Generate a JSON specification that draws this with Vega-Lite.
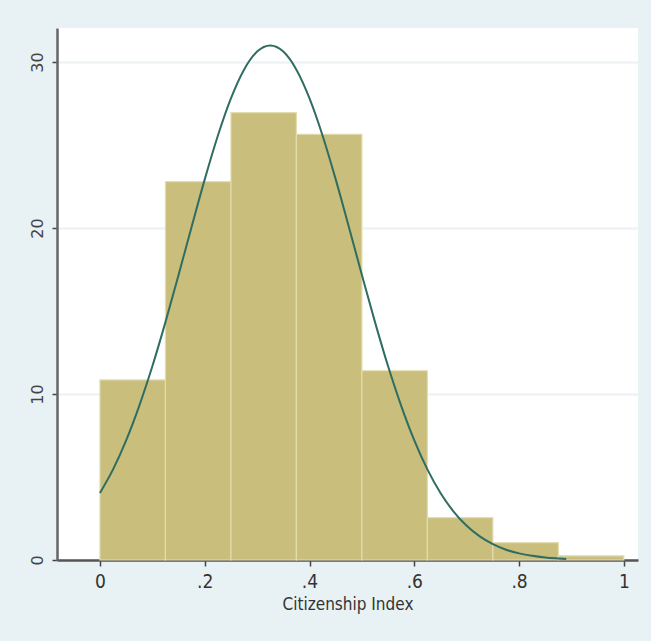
{
  "$schema": "https://vega.github.io/schema/vega-lite/v6.json",
  "width": 581,
  "height": 532,
  "autosize": {"type": "none"},
  "padding": {"left": 57, "top": 28, "right": 13, "bottom": 81},
  "background": "#e8f1f4",
  "config": {
    "view": {"fill": "#ffffff", "stroke": null},
    "font": "DejaVu Sans"
  },
  "datasets": {
    "bins": [
      {"start": 0.0, "end": 0.125, "pct": 10.85},
      {"start": 0.125, "end": 0.25, "pct": 22.8},
      {"start": 0.25, "end": 0.375, "pct": 26.95},
      {"start": 0.375, "end": 0.5, "pct": 25.65},
      {"start": 0.5, "end": 0.625, "pct": 11.4},
      {"start": 0.625, "end": 0.75, "pct": 2.55},
      {"start": 0.75, "end": 0.875, "pct": 1.05},
      {"start": 0.875, "end": 1.0, "pct": 0.25}
    ],
    "curve": [
      {"x": 0.0, "y": 4.04}, {"x": 0.025, "y": 5.46}, {"x": 0.05, "y": 7.21},
      {"x": 0.075, "y": 9.29}, {"x": 0.1, "y": 11.67}, {"x": 0.125, "y": 14.33},
      {"x": 0.15, "y": 17.17}, {"x": 0.175, "y": 20.08}, {"x": 0.2, "y": 22.93},
      {"x": 0.225, "y": 25.56}, {"x": 0.25, "y": 27.81}, {"x": 0.275, "y": 29.54},
      {"x": 0.3, "y": 30.63}, {"x": 0.325, "y": 31.0}, {"x": 0.35, "y": 30.63},
      {"x": 0.375, "y": 29.54}, {"x": 0.4, "y": 27.81}, {"x": 0.425, "y": 25.56},
      {"x": 0.45, "y": 22.93}, {"x": 0.475, "y": 20.08}, {"x": 0.5, "y": 17.17},
      {"x": 0.525, "y": 14.33}, {"x": 0.55, "y": 11.67}, {"x": 0.575, "y": 9.29},
      {"x": 0.6, "y": 7.21}, {"x": 0.625, "y": 5.46}, {"x": 0.65, "y": 4.04},
      {"x": 0.675, "y": 2.92}, {"x": 0.7, "y": 2.06}, {"x": 0.725, "y": 1.42},
      {"x": 0.75, "y": 0.95}, {"x": 0.775, "y": 0.62}, {"x": 0.8, "y": 0.4},
      {"x": 0.825, "y": 0.25}, {"x": 0.85, "y": 0.15}, {"x": 0.875, "y": 0.09},
      {"x": 0.89, "y": 0.06}
    ]
  },
  "layer": [
    {
      "data": {"name": "bins"},
      "mark": {"type": "rect", "fill": "#c9be7b", "stroke": "#e3dcae", "strokeWidth": 1.2},
      "encoding": {
        "x": {
          "field": "start", "type": "quantitative",
          "scale": {"domain": [-0.082, 1.027], "nice": false, "zero": false},
          "axis": {
            "values": [0, 0.2, 0.4, 0.6, 0.8, 1],
            "labelExpr": "datum.value == 0 ? '0' : (datum.value == 1 ? '1' : replace(format(datum.value, '.1f'), '0.', '.'))",
            "title": "Citizenship Index",
            "titleFont": "DejaVu Sans Condensed",
            "titleFontSize": 17,
            "titleFontWeight": "normal",
            "titleColor": "#333333",
            "titlePadding": 5,
            "labelFont": "DejaVu Sans Condensed",
            "labelFontSize": 19,
            "labelColor": "#333333",
            "labelPadding": 6,
            "tickSize": 6,
            "tickWidth": 1.5,
            "tickColor": "#444444",
            "domainColor": "#555555",
            "domainWidth": 2.5,
            "grid": false
          }
        },
        "x2": {"field": "end"},
        "y": {
          "field": "pct", "type": "quantitative",
          "scale": {"domain": [0, 32.05], "nice": false},
          "axis": {
            "values": [0, 10, 20, 30],
            "title": null,
            "labelAngle": -90,
            "labelAlign": "center",
            "labelBaseline": "bottom",
            "labelFontSize": 16,
            "labelFont": "DejaVu Sans",
            "labelColor": "#444444",
            "labelPadding": 7,
            "tickSize": 5,
            "tickWidth": 1.5,
            "tickColor": "#444444",
            "domainColor": "#666666",
            "domainWidth": 2.5,
            "grid": true,
            "gridColor": "#eef3f5",
            "gridWidth": 2.5
          }
        },
        "y2": {"datum": 0}
      }
    },
    {
      "data": {"name": "curve"},
      "mark": {"type": "line", "color": "#2f6d62", "strokeWidth": 2, "interpolate": "monotone"},
      "encoding": {
        "x": {"field": "x", "type": "quantitative"},
        "y": {"field": "y", "type": "quantitative"}
      }
    }
  ]
}
